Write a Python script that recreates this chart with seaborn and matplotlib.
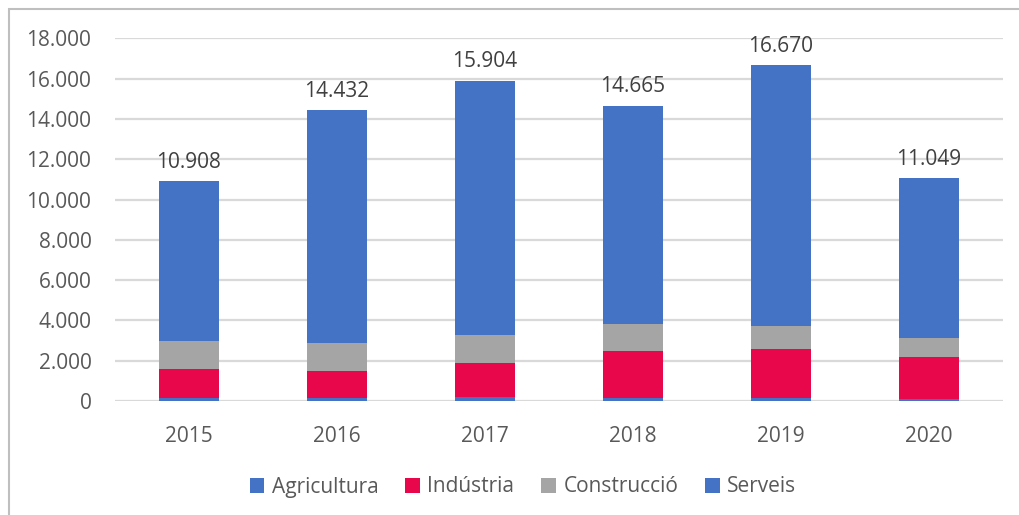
import matplotlib
matplotlib.use("Agg")
import matplotlib.pyplot as plt
import seaborn as sns
import pandas as pd
import numpy as np
from matplotlib.patches import Rectangle, Patch

years = ["2015", "2016", "2017", "2018", "2019", "2020"]
agricultura = [130, 170, 200, 170, 135, 85]
industria = [1460, 1320, 1710, 2335, 2435, 2085]
construccio = [1410, 1380, 1355, 1307, 1130, 947]
serveis = [7908, 11562, 12639, 10853, 12970, 7932]
totals = [10908, 14432, 15904, 14665, 16670, 11049]
series_names = ["Agricultura", "Indústria", "Construcció", "Serveis"]
colors = ["#4472C4", "#E8074A", "#A5A5A5", "#4472C4"]

sns.set_theme(style="white")
plt.rcParams["font.family"] = ["Open Sans", "DejaVu Sans"]

df = pd.DataFrame({"year": years, "Agricultura": agricultura, "Indústria": industria,
                   "Construcció": construccio, "Serveis": serveis})
cum = df[series_names].cumsum(axis=1)

fig = plt.figure(figsize=(10.19, 5.15), dpi=100)
ax = fig.add_axes([115 / 1019, 1 - 401 / 515, (1003 - 115) / 1019, (401 - 38.5) / 515])

# draw from top cumulative down so lower segments overlay
for name, col in reversed(list(zip(series_names, colors))):
    sns.barplot(x=df["year"], y=cum[name], color=col, width=0.405, ax=ax,
                saturation=1, linewidth=0, zorder=3)

ax.set_ylim(0, 18000)
ax.set_xlim(-0.5, 5.5)
ticks = np.arange(0, 18001, 2000)
ax.set_yticks(ticks)
ax.set_yticklabels([f"{t:,}".replace(",", ".") for t in ticks])
ax.yaxis.grid(True, color="#D9D9D9", linewidth=1.6, zorder=0)
ax.set_axisbelow(True)
for s in ax.spines.values():
    s.set_visible(False)
ax.set_xlabel("")
ax.set_ylabel("")
ax.tick_params(axis="both", length=0, labelsize=15, colors="#595959")
ax.tick_params(axis="y", pad=17)
ax.tick_params(axis="x", pad=18)

for i, t in enumerate(totals):
    ax.annotate(f"{t:,}".replace(",", "."), (i, t), xytext=(0, 6), textcoords="offset points",
                ha="center", va="bottom", fontsize=15, color="#404040")

handles = [Patch(facecolor=c, edgecolor="none") for c in colors]
fig.legend(handles, series_names, loc="center", bbox_to_anchor=(523 / 1019, 1 - 487 / 515),
           ncol=4, frameon=False, fontsize=15, handlelength=0.7, handleheight=0.7,
           handletextpad=0.35, columnspacing=1.3, labelcolor="#595959")

fig.patches.append(Rectangle((9 / 1019, -0.1), 1.2, 1 - 9 / 515 + 0.1, transform=fig.transFigure,
                             fill=False, edgecolor="#BFBFBF", linewidth=1.5))

fig.savefig("out.png", dpi=100)
